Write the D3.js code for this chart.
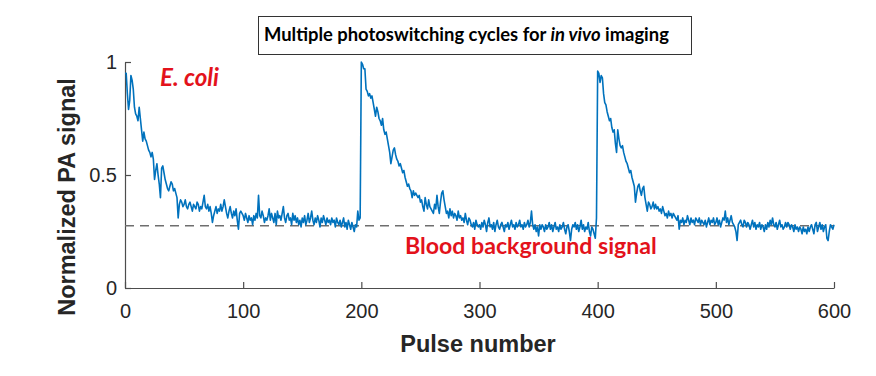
<!DOCTYPE html>
<html>
<head>
<meta charset="utf-8">
<script src="https://cdn.jsdelivr.net/npm/d3@7"></script>
<style>
  body { margin: 0; background: #fff; }
  svg { display: block; }
</style>
</head>
<body>
<svg width="876" height="376"></svg>
<script>
const width = 876;
const height = 376;
const margin = {left: 125, top: 62, right: 42, bottom: 88};

// normalized PA signal, pulses 0-199 (first switching cycle)
const cycle1 = [
  0.95,0.95,0.86,0.79,0.83,0.94,0.92,0.88,0.80,0.77,
  0.76,0.74,0.80,0.75,0.70,0.65,0.69,0.66,0.65,0.63,
  0.61,0.60,0.58,0.60,0.57,0.48,0.52,0.55,0.50,0.46,
  0.40,0.53,0.54,0.51,0.48,0.46,0.44,0.43,0.45,0.47,
  0.46,0.43,0.44,0.42,0.40,0.31,0.37,0.39,0.38,0.36,
  0.37,0.39,0.36,0.35,0.37,0.38,0.36,0.34,0.37,0.36,
  0.35,0.38,0.37,0.34,0.36,0.35,0.38,0.41,0.36,0.35,
  0.37,0.34,0.36,0.33,0.29,0.32,0.34,0.36,0.33,0.35,
  0.34,0.37,0.34,0.36,0.39,0.36,0.33,0.31,0.34,0.36,
  0.33,0.31,0.34,0.32,0.35,0.30,0.26,0.33,0.34,0.33,
  0.32,0.30,0.33,0.31,0.29,0.32,0.30,0.31,0.28,0.32,
  0.30,0.33,0.31,0.41,0.32,0.31,0.34,0.32,0.29,0.31,
  0.30,0.32,0.35,0.30,0.33,0.31,0.29,0.33,0.28,0.34,
  0.31,0.32,0.30,0.33,0.36,0.31,0.29,0.32,0.33,0.30,
  0.31,0.28,0.33,0.30,0.32,0.29,0.31,0.28,0.30,0.27,
  0.31,0.29,0.32,0.28,0.30,0.33,0.29,0.31,0.34,0.30,
  0.28,0.31,0.29,0.32,0.30,0.27,0.31,0.29,0.32,0.30,
  0.28,0.31,0.29,0.30,0.28,0.31,0.29,0.30,0.27,0.31,
  0.29,0.28,0.30,0.27,0.29,0.31,0.27,0.29,0.26,0.30,
  0.28,0.26,0.29,0.27,0.25,0.28,0.27,0.34,0.30,0.31
];

// pulses 200-399 (second cycle)
const cycle2 = [
  1.00,0.99,0.97,0.97,0.88,0.87,0.85,0.86,0.84,0.85,
  0.82,0.79,0.76,0.80,0.78,0.75,0.74,0.72,0.75,0.70,
  0.68,0.69,0.66,0.63,0.60,0.55,0.58,0.61,0.62,0.59,
  0.57,0.56,0.54,0.55,0.53,0.51,0.52,0.49,0.47,0.45,
  0.46,0.44,0.43,0.40,0.43,0.41,0.42,0.41,0.40,0.41,
  0.38,0.39,0.36,0.34,0.40,0.37,0.35,0.39,0.36,0.35,
  0.34,0.33,0.37,0.35,0.41,0.36,0.33,0.38,0.42,0.43,
  0.39,0.36,0.33,0.34,0.31,0.35,0.32,0.34,0.31,0.33,
  0.32,0.30,0.34,0.31,0.32,0.30,0.31,0.29,0.33,0.30,
  0.28,0.31,0.30,0.28,0.27,0.29,0.26,0.30,0.28,0.27,
  0.28,0.26,0.29,0.27,0.30,0.28,0.25,0.29,0.31,0.27,
  0.28,0.26,0.29,0.25,0.28,0.30,0.27,0.26,0.28,0.29,
  0.27,0.25,0.28,0.27,0.29,0.26,0.28,0.30,0.27,0.28,
  0.26,0.29,0.27,0.28,0.30,0.27,0.28,0.26,0.29,0.27,
  0.28,0.30,0.27,0.29,0.34,0.28,0.26,0.28,0.25,0.27,
  0.23,0.28,0.26,0.28,0.27,0.25,0.28,0.26,0.27,0.29,
  0.26,0.28,0.25,0.27,0.29,0.26,0.27,0.25,0.28,0.26,
  0.27,0.29,0.26,0.24,0.27,0.28,0.25,0.21,0.26,0.28,
  0.27,0.29,0.26,0.28,0.25,0.27,0.30,0.26,0.28,0.25,
  0.27,0.26,0.29,0.25,0.23,0.27,0.26,0.24,0.22,0.31
];

// pulses 400-600 (third cycle)
const cycle3 = [
  0.96,0.95,0.91,0.94,0.93,0.86,0.82,0.81,0.78,0.76,
  0.74,0.75,0.71,0.69,0.70,0.64,0.60,0.70,0.66,0.63,
  0.62,0.63,0.60,0.58,0.56,0.55,0.53,0.51,0.52,0.49,
  0.47,0.45,0.38,0.42,0.45,0.46,0.43,0.41,0.44,0.45,
  0.40,0.37,0.34,0.38,0.37,0.35,0.36,0.38,0.35,0.37,
  0.35,0.36,0.34,0.35,0.33,0.36,0.34,0.32,0.33,0.31,
  0.34,0.32,0.33,0.31,0.33,0.32,0.31,0.30,0.32,0.26,
  0.30,0.29,0.31,0.28,0.30,0.29,0.32,0.30,0.28,0.31,
  0.29,0.30,0.28,0.31,0.30,0.29,0.31,0.28,0.30,0.29,
  0.28,0.30,0.27,0.29,0.31,0.28,0.30,0.29,0.31,0.28,
  0.29,0.31,0.28,0.30,0.27,0.29,0.31,0.30,0.34,0.29,
  0.31,0.28,0.30,0.32,0.29,0.28,0.27,0.25,0.21,0.28,
  0.29,0.30,0.28,0.27,0.30,0.29,0.27,0.29,0.28,0.26,
  0.28,0.30,0.27,0.29,0.26,0.28,0.27,0.29,0.26,0.28,
  0.27,0.25,0.28,0.26,0.29,0.27,0.30,0.28,0.31,0.28,
  0.27,0.29,0.26,0.28,0.30,0.27,0.28,0.26,0.27,0.29,
  0.27,0.29,0.28,0.26,0.28,0.27,0.25,0.28,0.26,0.27,
  0.25,0.27,0.26,0.24,0.27,0.25,0.26,0.24,0.27,0.25,
  0.27,0.28,0.26,0.24,0.28,0.29,0.25,0.27,0.29,0.26,
  0.28,0.25,0.27,0.28,0.22,0.21,0.25,0.28,0.27,0.26,
  0.28
];

const signal = cycle1.concat(cycle2, cycle3);
const bloodLevel = 0.275;

const xTicks = [0, 100, 200, 300, 400, 500, 600];
const yTicks = [0, 0.5, 1];
const yTickLabels = ["0", "0.5", "1"];

const titleParts = [
  {text: "Multiple photoswitching cycles for ", italic: false},
  {text: "in vivo", italic: true},
  {text: " imaging", italic: false}
];
const xLabel = "Pulse number";
const yLabel = "Normalized PA signal";
const strainLabel = "E. coli";
const bloodLabel = "Blood background signal";

const svg = d3.select("svg");
const g = svg.append("g")
    .attr("transform", `translate(${margin.left},${margin.top})`);

const innerW = width - margin.left - margin.right;
const innerH = height - margin.top - margin.bottom;

const x = d3.scaleLinear().domain([0, 600]).range([0, innerW]);
const y = d3.scaleLinear().domain([0, 1]).range([innerH, 0]);

// axes (matlab style, ticks pointing inward, no box)
const xAxis = g.append("g")
    .attr("transform", `translate(0,${innerH})`)
    .call(d3.axisBottom(x).tickValues(xTicks).tickSize(-6).tickSizeOuter(0).tickPadding(16));
const yAxis = g.append("g")
    .call(d3.axisLeft(y).tickValues(yTicks).tickSize(-6).tickSizeOuter(0).tickPadding(8)
        .tickFormat((d, i) => yTickLabels[i]));

[xAxis, yAxis].forEach(a => {
    a.select(".domain").attr("stroke", "#4d4d4d").attr("stroke-width", 1.2);
    a.selectAll(".tick line").attr("stroke", "#4d4d4d").attr("stroke-width", 1.2);
    a.selectAll(".tick text")
        .attr("fill", "#262626")
        .style("font-family", "'Liberation Sans', Arial, sans-serif")
        .style("font-size", "20px");
});

// blood background level
g.append("line")
    .attr("x1", x(0))
    .attr("x2", x(600))
    .attr("y1", y(bloodLevel))
    .attr("y2", y(bloodLevel))
    .attr("stroke", "#6e6e6e")
    .attr("stroke-width", 1.5)
    .attr("stroke-dasharray", "9,6");

// signal trace
const line = d3.line()
    .x((d, i) => x(i))
    .y(d => y(d));

g.append("path")
    .datum(signal)
    .attr("d", line)
    .attr("fill", "none")
    .attr("stroke", "#0072BD")
    .attr("stroke-width", 1.6)
    .attr("stroke-linejoin", "round");

// fit a text element to a given width
function fitWidth(sel, w) {
    const node = sel.node();
    const cur = node.getComputedTextLength();
    const fs = parseFloat(sel.style("font-size"));
    sel.style("font-size", (fs * w / cur).toFixed(2) + "px");
}

// axis labels
const xl = svg.append("text")
    .attr("x", 478)
    .attr("y", 352)
    .attr("text-anchor", "middle")
    .attr("fill", "#262626")
    .style("font-family", "'Liberation Sans', Arial, sans-serif")
    .style("font-weight", "bold")
    .style("font-size", "23.5px")
    .text(xLabel);

const yl = svg.append("text")
    .attr("transform", "translate(75,197) rotate(-90)")
    .attr("text-anchor", "middle")
    .attr("fill", "#262626")
    .style("font-family", "'Liberation Sans', Arial, sans-serif")
    .style("font-weight", "bold")
    .style("font-size", "23.5px")
    .text(yLabel);

// title box
svg.append("rect")
    .attr("x", 258.5)
    .attr("y", 16.5)
    .attr("width", 433)
    .attr("height", 38)
    .attr("fill", "#fff")
    .attr("stroke", "#333")
    .attr("stroke-width", 1);

const title = svg.append("text")
    .attr("x", 264)
    .attr("y", 41)
    .attr("fill", "#000")
    .style("font-family", "Lato, 'Open Sans', sans-serif")
    .style("font-weight", "bold")
    .style("font-size", "17px");
title.selectAll("tspan")
    .data(titleParts)
    .join("tspan")
    .style("font-style", d => d.italic ? "italic" : "normal")
    .text(d => d.text);
fitWidth(title, 405);

// annotations
const ec = svg.append("text")
    .attr("x", 160)
    .attr("y", 86)
    .attr("fill", "#e3121b")
    .style("font-family", "Lato, 'Open Sans', sans-serif")
    .style("font-weight", "bold")
    .style("font-style", "italic")
    .style("font-size", "20px")
    .text(strainLabel);
fitWidth(ec, 59);

const bl = svg.append("text")
    .attr("x", 405)
    .attr("y", 254)
    .attr("fill", "#e3121b")
    .style("font-family", "Lato, 'Open Sans', sans-serif")
    .style("font-weight", "bold")
    .style("font-size", "20px")
    .text(bloodLabel);
fitWidth(bl, 252);
</script>
</body>
</html>
